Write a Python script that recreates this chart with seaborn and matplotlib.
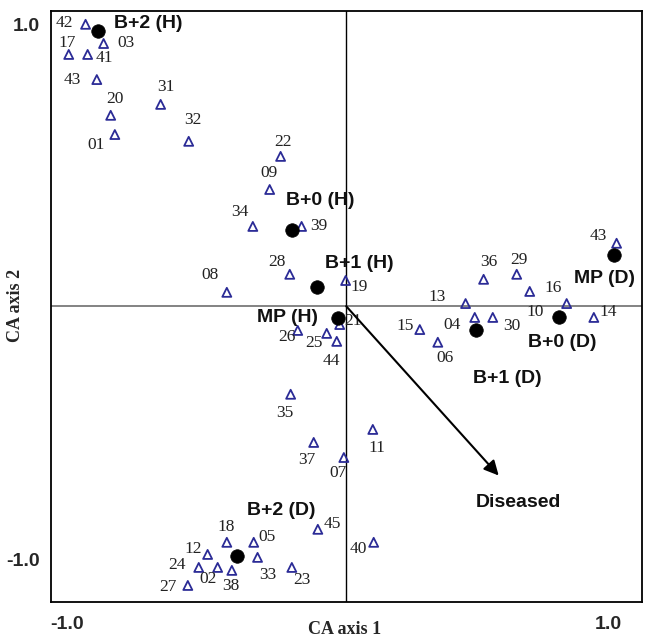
import matplotlib
matplotlib.use("Agg")
import matplotlib.pyplot as plt
import matplotlib.transforms as mtransforms
import pandas as pd
import seaborn as sns

# species scores (open triangles)
species = ["01", "02", "03", "04", "05", "06", "07", "08", "09", "10",
           "11", "12", "13", "14", "15", "16", "17", "18", "19", "20",
           "21", "22", "23", "24", "25", "26", "27", "28", "29", "30",
           "31", "32", "33", "34", "35", "36", "37", "38", "39", "40",
           "41", "42", "43", "43", "44", "45"]
species_x = [-0.783, -0.435, -0.821, 0.435, -0.313, 0.310, -0.008, -0.404, -0.259, 0.621,
             0.090, -0.469, 0.404, 0.838, 0.249, 0.746, -0.939, -0.404, -0.002, -0.797,
             -0.022, -0.222, -0.184, -0.499, -0.066, -0.164, -0.536, -0.191, 0.577, 0.496,
             -0.628, -0.533, -0.300, -0.316, -0.188, 0.465, -0.110, -0.387, -0.151, 0.093,
             -0.875, -0.882, -0.844, 0.915, -0.032, -0.096]
species_y = [0.581, -0.884, 0.889, -0.038, -0.799, -0.122, -0.512, 0.047, 0.395, 0.050,
             -0.417, -0.840, 0.009, -0.038, -0.079, 0.009, 0.852, -0.799, 0.087, 0.646,
             -0.062, 0.507, -0.884, -0.884, -0.092, -0.082, -0.945, 0.108, 0.108, -0.038,
             0.683, 0.558, -0.850, 0.270, -0.298, 0.091, -0.461, -0.894, 0.270, -0.799,
             0.852, 0.954, 0.767, 0.213, -0.119, -0.755]

# sample scores (filled circles)
samples = ["B+2 (H)", "B+0 (H)", "B+1 (H)", "MP (H)",
           "MP (D)", "B+0 (D)", "B+1 (D)", "B+2 (D)"]
sample_x = [-0.841, -0.184, -0.100, -0.029, 0.905, 0.719, 0.438, -0.371]
sample_y = [0.930, 0.257, 0.064, -0.041, 0.172, -0.038, -0.079, -0.847]

# disease vector
arrow_name = "Diseased"
arrow_x = 0.516
arrow_y = -0.573

# label offsets in pixels (dx right, dy down)
species_off = [(-19, 10), (-10, 12), (22, -1), (-23, 8), (13, -5), (7, 16), (-6, 16), (-17, -17), (-1, -16), (5, 21),
               (4, 19), (-14, -5), (-28, -7), (14, -5), (-15, -4), (-14, -16), (-2, -11), (-1, -15), (14, 7), (4, -16),
               (13, -4), (2, -14), (10, 13), (-22, -2), (-13, 10), (-11, 7), (-20, 2), (-13, -12), (2, -14), (19, 9),
               (5, -17), (4, -21), (10, 18), (-13, -14), (-6, 19), (5, -17), (-7, 18), (-1, 16), (17, 0), (-15, 7),
               (17, 4), (-21, -1), (-24, 0), (-18, -7), (-5, 20), (14, -5)]
sample_off = [(51, -8), (28, -30), (43, -24), (-50, -1), (-9, 23), (4, 25), (32, 49), (45, -46)]

df_sp = pd.DataFrame({"x": species_x, "y": species_y, "label": species})
df_sa = pd.DataFrame({"x": sample_x, "y": sample_y, "label": samples})

sns.set_style("white")
plt.rcParams["font.family"] = ["Liberation Sans", "DejaVu Sans"]

fig = plt.figure(figsize=(6.46, 6.38), dpi=100)
ax = fig.add_axes([50.7 / 646, 36.3 / 638, 591 / 646, 591 / 638])

navy = "#2b2b96"
ax.axhline(0, color="#7a7a7a", lw=1.3, zorder=1)
ax.axvline(0, color="black", lw=1.0, zorder=1)

sns.scatterplot(data=df_sp, x="x", y="y", marker="^", s=42, facecolor="none",
                edgecolor=navy, linewidth=1.3, ax=ax, zorder=3)
sns.scatterplot(data=df_sa, x="x", y="y", marker="o", s=95, color="black",
                edgecolor="black", linewidth=0.5, ax=ax, zorder=4)

for lab, x, y, (dx, dy) in zip(species, species_x, species_y, species_off):
    ax.annotate(lab, (x, y), xytext=(dx, -dy), textcoords="offset pixels",
                ha="center", va="center", fontsize=12.5,
                family=["Liberation Serif", "DejaVu Serif"], color="#222222", zorder=5)

for lab, x, y, (dx, dy) in zip(samples, sample_x, sample_y, sample_off):
    ax.annotate(lab, (x, y), xytext=(dx, -dy), textcoords="offset pixels",
                ha="center", va="center", fontsize=14, fontweight="bold",
                color="#111111", zorder=5)

ax.annotate("", xy=(arrow_x, arrow_y), xytext=(0, 0),
            arrowprops=dict(arrowstyle="-|>", color="black", lw=1.5, mutation_scale=22,
                            shrinkA=0, shrinkB=0), zorder=5)
ax.text(arrow_x + 0.066, arrow_y - 0.09, arrow_name, ha="center", va="center",
        fontsize=14, fontweight="bold", color="#111111")

ax.set_xlim(-1, 1)
ax.set_ylim(-1, 1)
ticks = [-1, -0.5, 0, 0.5, 1]
ax.set_xticks(ticks)
ax.set_yticks(ticks)
ax.set_xticklabels(["-1.0", "", "", "", "1.0"], fontsize=14, fontweight="bold")
ax.set_yticklabels(["-1.0", "", "", "", "1.0"], fontsize=14, fontweight="bold")
ax.tick_params(axis="both", direction="inout", length=5, width=1.2, color="black", pad=8)
ax.tick_params(axis="y", pad=5)

# nudge the end labels inward like the original
xl = ax.get_xticklabels()
xl[0].set_ha("left")
xl[-1].set_transform(xl[-1].get_transform() + mtransforms.ScaledTranslation(-33 / 100, 0, fig.dpi_scale_trans))
yl = ax.get_yticklabels()
yl[0].set_transform(yl[0].get_transform() + mtransforms.ScaledTranslation(0, 42 / 100, fig.dpi_scale_trans))
yl[-1].set_transform(yl[-1].get_transform() + mtransforms.ScaledTranslation(0, -14 / 100, fig.dpi_scale_trans))

ax.set_xlabel("")
ax.set_ylabel("")
fig.text(345 / 646, 1 - 630 / 638, "CA axis 1", ha="center", va="center", fontsize=13,
         fontweight="bold", family=["Liberation Serif", "DejaVu Serif"])
fig.text(16 / 646, 1 - 305 / 638, "CA axis 2", ha="center", va="center", fontsize=13,
         fontweight="bold", rotation=90, family=["Liberation Serif", "DejaVu Serif"])

for side in ax.spines.values():
    side.set_color("black")
    side.set_linewidth(1.3)

fig.savefig("out.png", dpi=100)
